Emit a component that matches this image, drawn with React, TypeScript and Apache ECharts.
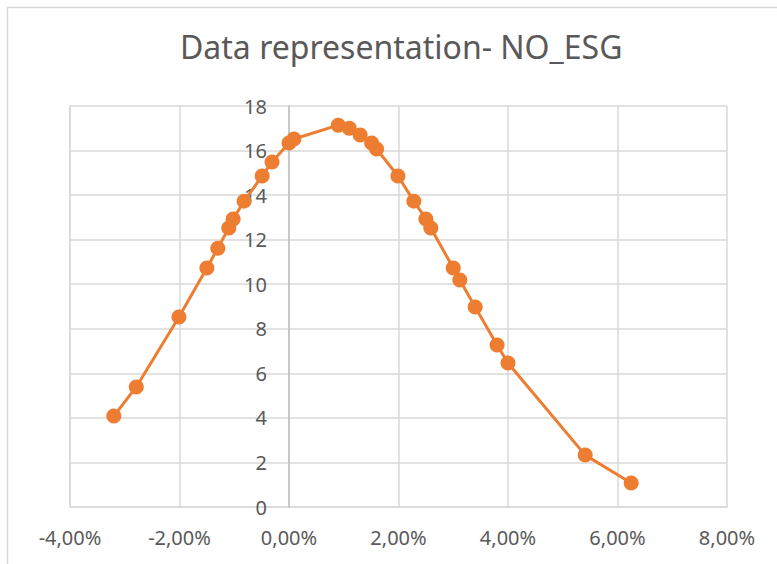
import React, { useEffect, useRef } from "react";
import * as echarts from "echarts";

const titleText = "Data representation- NO_ESG";
// x values in percent
const xValues = [-3.2, -2.79, -2.01, -1.5, -1.3, -1.1, -1.02, -0.82, -0.49, -0.31, 0.0, 0.09, 0.9, 1.1, 1.3, 1.51, 1.6, 1.99, 2.28, 2.5, 2.59, 3.0, 3.12, 3.4, 3.8, 4.0, 5.41, 6.25];
const yValues = [4.08, 5.39, 8.53, 10.73, 11.62, 12.52, 12.93, 13.73, 14.86, 15.49, 16.34, 16.52, 17.14, 17.0, 16.7, 16.34, 16.07, 14.86, 13.73, 12.93, 12.52, 10.73, 10.19, 8.98, 7.27, 6.46, 2.33, 1.08];
const xTicks = [-4, -2, 0, 2, 4, 6, 8];
const yTicks = [0, 2, 4, 6, 8, 10, 12, 14, 16, 18];

export default function App() {
  const ref = useRef<HTMLDivElement>(null);
  useEffect(() => {
    if (!ref.current) return;
    const chart = echarts.init(ref.current, undefined, { renderer: "svg" });
    const font = "'Noto Sans', 'Open Sans', sans-serif";
    const gridLeft = 70;
    chart.setOption({
      animation: false,
      backgroundColor: "#ffffff",
      title: {
        text: titleText,
        left: 175,
        top: 25,
        textStyle: { fontFamily: font, fontSize: 32, fontWeight: "normal", color: "#595959" },
      },
      graphic: [
        {
          type: "rect",
          shape: { x: 7.5, y: 7.5, width: 800, height: 600 },
          style: { fill: "none", stroke: "#d9d9d9", lineWidth: 1.5 },
          silent: true,
        },
      ],
      grid: { left: gridLeft, right: 50, top: 106, bottom: 57 },
      xAxis: {
        type: "value",
        min: xTicks[0],
        max: xTicks[xTicks.length - 1],
        interval: 2,
        axisLine: { show: true, onZero: false, lineStyle: { color: "#d9d9d9", width: 1.5 } },
        axisTick: { show: false },
        splitLine: { show: true, lineStyle: { color: "#d9d9d9", width: 1.5 } },
        axisLabel: {
          margin: 20,
          fontFamily: font,
          fontSize: 20,
          color: "#595959",
          formatter: (v: number) => v.toFixed(2).replace(".", ",") + "%",
        },
      },
      yAxis: [
        {
          type: "value",
          min: yTicks[0],
          max: yTicks[yTicks.length - 1],
          interval: 2,
          axisLine: { show: true, onZero: false, lineStyle: { color: "#bfbfbf", width: 1.5 } },
          axisTick: { show: false },
          splitLine: { show: true, lineStyle: { color: "#d9d9d9", width: 1.5 } },
          axisLabel: { margin: 22, fontFamily: font, fontSize: 20, color: "#595959" },
          z: 3,
        },
        {
          type: "value",
          position: "left",
          min: yTicks[0],
          max: yTicks[yTicks.length - 1],
          interval: 2,
          axisLine: { show: true, onZero: false, lineStyle: { color: "#d9d9d9", width: 1.5 } },
          axisTick: { show: false },
          splitLine: { show: false },
          axisLabel: { show: false },
        },
      ],
      series: [
        {
          type: "line",
          data: xValues.map((x, i) => [x, yValues[i]]),
          symbol: "circle",
          symbolSize: 15,
          lineStyle: { color: "#ED7D31", width: 3 },
          itemStyle: { color: "#ED7D31" },
          z: 5,
        },
      ],
    });
    // move the y axis (line and labels) to cross the x axis at 0
    const zeroX = chart.convertToPixel({ xAxisIndex: 0 }, 0) as number;
    chart.setOption({ yAxis: [{ offset: -(zeroX - gridLeft) }, { offset: 0 }] });
    return () => chart.dispose();
  }, []);
  return (
    <div
      ref={ref}
      style={{ position: "fixed", left: 0, top: 0, width: 777, height: 564 }}
    />
  );
}
